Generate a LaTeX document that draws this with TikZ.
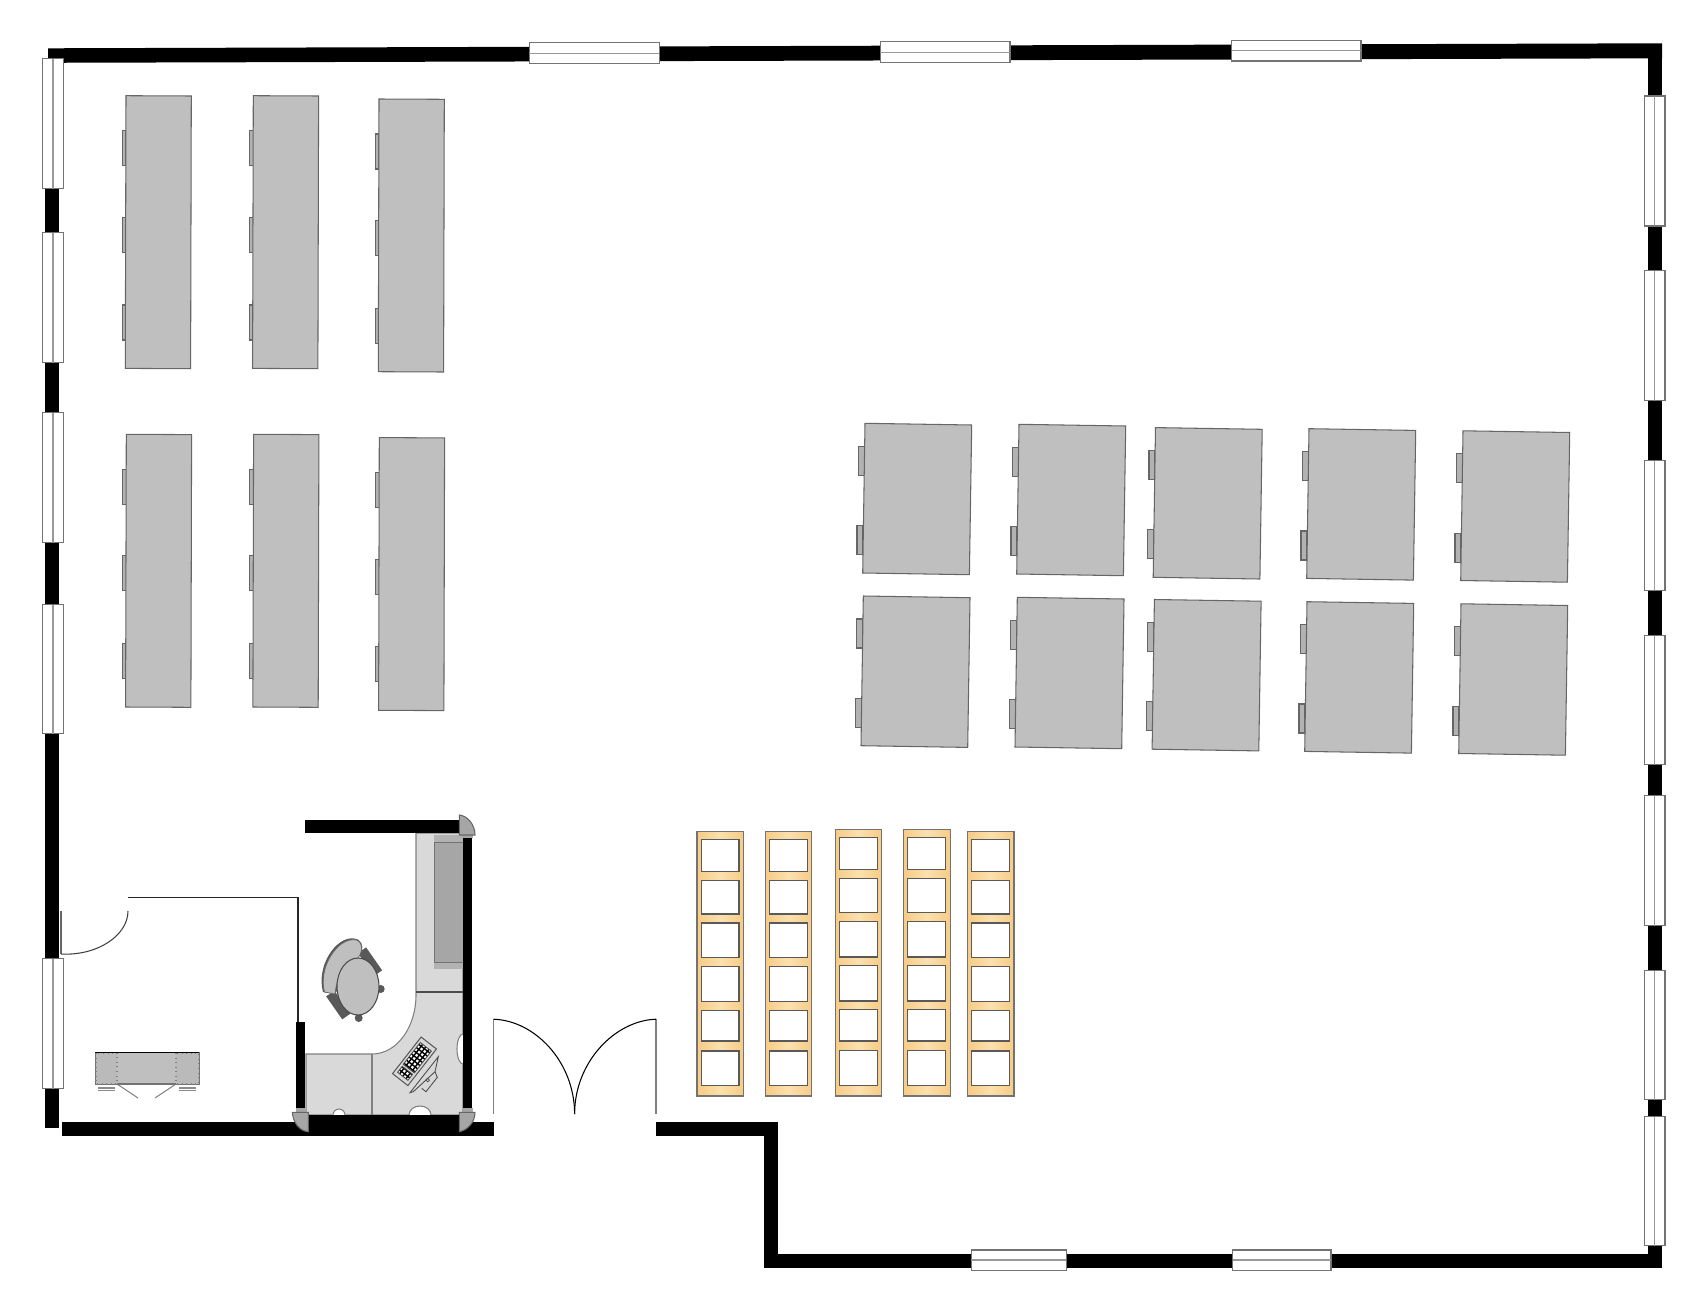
\documentclass[tikz,border=0pt]{standalone}
\usetikzlibrary{calc}
\definecolor{deskgray}{HTML}{BFBFBF}
\definecolor{counter}{HTML}{D9D9D9}
\definecolor{storage}{HTML}{A6A6A6}
\definecolor{armgray}{HTML}{595959}
\definecolor{woodlight}{HTML}{FCE0AE}
\definecolor{wooddark}{HTML}{F6CB86}
\tikzset{
    wall/.style={fill=black, draw=none},
    windowbox/.style={draw=black!55, fill=white, line width=0.3pt},
    windowmid/.style={draw=black!40, line width=0.35pt},
    deskbox/.style={draw=black!60, fill=deskgray, line width=0.3pt},
    tabbox/.style={draw=black!60, fill=black!30, line width=0.3pt},
    shelfbox/.style={draw=black!55, left color=wooddark, right color=wooddark, middle color=woodlight, line width=0.3pt},
    slotbox/.style={draw=black!65, fill=white, line width=0.3pt},
    thinline/.style={draw=black, line width=0.3pt},
    postbox/.style={draw=black!60, fill=storage, line width=0.3pt},
}
\begin{document}
\begin{tikzpicture}[x=0.01cm, y=-0.01cm]
    \useasboundingbox (0,0) rectangle (1706,1312);
    % Reception counter
    \draw [draw=black!50, fill=counter, line width=0.3pt] (416,833) -- (463,833) -- (463,1115) -- (306,1115) -- (306,1054) -- (372,1054) .. controls (397,1054) and (416,1027) .. (416,995) -- cycle;
    \draw [draw=black!70, line width=0.3pt] (416,992) -- (463,992);
    \draw [draw=black!50, line width=0.35pt] (372,1054) -- (372,1115);
    \draw [thinline, draw=black!50, fill=white] (339,1115) ellipse [x radius=6, y radius=6];
    \draw [thinline, draw=black!50, fill=white] (420,1115) ellipse [x radius=11, y radius=9];
    \draw [thinline, draw=black!50, fill=white] (463,1049) ellipse [x radius=6, y radius=15];
    \fill [storage] (434,835) rectangle (463,969);
    \fill [black!30] (434,835) rectangle (463,842);
    \fill [black!30] (434,962) rectangle (463,969);
    \draw [draw=black!55, line width=0.25pt] (463,842) -- (434,842) -- (434,962) -- (463,962);
    % Outer walls
    \fill [wall] (48,48.3) -- (1662,43.3) -- (1662,58.3) -- (48,62.8) -- cycle;
    \fill [wall] (45.3,60) rectangle (59.3,1128);
    \fill [wall] (1648,43.5) rectangle (1662,1267.5);
    \fill [wall] (764,1253.5) rectangle (1662,1267.5);
    \fill [wall] (764,1121.5) rectangle (778,1267.5);
    \fill [wall] (656,1121.5) rectangle (778,1135.5);
    \fill [wall] (62,1121.5) rectangle (493.5,1135.5);
    % Cubicle walls
    \fill [wall] (305,820) rectangle (460,833);
    \fill [wall] (463,833) rectangle (472,1115);
    \fill [wall] (296,1022) rectangle (305,1110);
    \fill [wall] (308,1115) rectangle (460,1135.5);
    % Corner posts
    \fill [black!35] (462,835) rectangle (473,838);
    \fill [black!35] (296,1108) rectangle (305,1112);
    \fill [black!35] (463,1108) rectangle (473,1112);
    \draw [postbox] (459.3,835) -- (459.3,815) .. controls (468,816) and (475,825) .. (475,835) -- cycle;
    \draw [postbox] (308.3,1112.3) -- (292.3,1112.3) .. controls (293,1122) and (299,1131) .. (308.3,1131.7) -- cycle;
    \draw [postbox] (459.3,1112.3) -- (475,1112.3) .. controls (475,1122) and (468,1130) .. (459.3,1131.7) -- cycle;
    % Windows
    \foreach \ya/\yb in {58.5/188.5, 232.5/362.5, 412.5/542.5, 604.5/733.5, 958.5/1088.5} {
        \draw [windowbox] (42.5,\ya) rectangle (63.2,\yb);
        \draw [windowmid] (53,\ya) -- (53,\yb);
    }
    \foreach \ya/\yb in {96/226, 270.5/400.5, 460.5/590.5, 635.5/764.5, 795.5/925.5, 970.5/1099.5, 1116.5/1245.5} {
        \draw [windowbox] (1644.5,\ya) rectangle (1665,\yb);
        \draw [windowmid] (1654.5,\ya) -- (1654.5,\yb);
    }
    \foreach \xa/\xb/\ya in {529.3/659.3/42.7, 880.4/1010/41.7, 1231.5/1361/40.3} {
        \draw [windowbox] (\xa,\ya) rectangle (\xb,\ya+20.7);
        \draw [windowmid] (\xa,\ya+10.5) -- (\xb,\ya+10.5);
    }
    \foreach \xa/\xb in {971.3/1066.3, 1232.7/1331} {
        \draw [windowbox] (\xa,1250) rectangle (\xb,1270.5);
        \draw [windowmid] (\xa,1260) -- (\xb,1260);
    }
    % Long benches
    \foreach \bx/\by in {126/95.7, 253.3/95.7, 379/99, 126.3/434.3, 253.6/434.3, 379.3/437.6} {
        \foreach \ty in {35, 121.6, 209.3}
            \draw [tabbox] (\bx-3.7,\by+\ty) rectangle (\bx,\by+\ty+35);
        \draw [deskbox] (\bx,\by) -- ++(65.3,0.3) -- ++(-0.7,272.7) -- ++(-65.3,-0.3) -- cycle;
    }
    % Short desks
    \foreach \dx/\dy in {865/423.3, 1019/424.3, 1155.5/427.6, 1309/428.7, 1463/430.8,
                         863.3/596, 1017.3/597.3, 1154.4/599.5, 1307/601.7, 1461/603.8} {
        \draw [tabbox] (\dx-6.5,\dy+23) rectangle (\dx-0.5,\dy+52);
        \draw [tabbox] (\dx-8,\dy+102.3) rectangle (\dx-2,\dy+131.3);
        \draw [deskbox] (\dx,\dy) -- ++(106.7,1.7) -- ++(-2.3,149.7) -- ++(-106.7,-1.7) -- cycle;
    }
    % Shelves
    \foreach \sa/\sb in {697/743.6, 765.4/811.8, 967.5/1014} {
        \draw [shelfbox] (\sa,831.3) rectangle (\sb,1096);
        \foreach \ra/\rb in {839.3/871.3, 880.3/914, 923/957.7, 966.3/1001.3, 1010.3/1041, 1051/1085.3}
            \draw [slotbox] (\sa+4.3,\ra) rectangle (\sa+42,\rb);
    }
    \foreach \sa/\sb in {835.4/881.8, 903.2/950.4} {
        \draw [shelfbox] (\sa,829.3) rectangle (\sb,1096);
        \foreach \ra/\rb in {837.3/869.7, 878.7/912.7, 921.7/957, 965.3/1001, 1009.7/1041, 1050.7/1085.3}
            \draw [slotbox] (\sa+4.3,\ra) rectangle (\sa+42,\rb);
    }
    % Partition with door
    \draw [thinline, draw=black!85] (128,897.5) -- (298,897.5) -- (298,1022);
    \draw [thinline, draw=black!60] (61,911) -- (61,954);
    \draw [thinline, draw=black!75] (61,954) .. controls (98,956) and (128,935) .. (128,911);
    % Entrance doors
    \draw [thinline, draw=black!50] (493.6,1114) -- (493.6,1019.2);
    \draw [thinline] (493.6,1019.2) .. controls (535,1020.5) and (574.6,1062) .. (574.6,1114);
    \draw [thinline, draw=black!50] (656,1114) -- (656,1019.2);
    \draw [thinline] (656,1019.2) .. controls (615,1020.5) and (574.6,1062) .. (574.6,1114);
    % Cabinet in the side room
    \draw [draw=black!55, fill=deskgray, line width=0.3pt] (95.3,1052.5) rectangle (199.3,1084);
    \draw [draw=black!50, densely dotted, fill=black!27, line width=0.3pt] (96,1053) rectangle (117,1084);
    \draw [draw=black!50, densely dotted, fill=black!27, line width=0.3pt] (176,1053) rectangle (198.6,1084);
    \draw [draw=black, line width=0.35pt] (95.3,1052.5) -- (199.3,1052.5);
    \draw [draw=black!45, line width=0.3pt] (98,1088) -- (115,1088) (98,1090.5) -- (115,1090.5);
    \draw [draw=black!45, line width=0.3pt] (179,1088) -- (196,1088) (179,1090.5) -- (196,1090.5);
    \draw [draw=black!55, line width=0.25pt] (117,1084) -- (138,1098) (176,1084) -- (155,1098);
    % Office chair
    \fill [armgray] (380.7,989) circle (4);
    \fill [armgray] (358.7,1018) circle (4);
    \begin{scope}[shift={(370,961.7)}, rotate=-55]
        \fill [armgray] (-14,-5) rectangle (14,5);
    \end{scope}
    \begin{scope}[shift={(338.3,1005)}, rotate=-55]
        \fill [armgray] (-14,-5) rectangle (14,5);
    \end{scope}
    \fill [armgray] (323,992) .. controls (316,966) and (336,936) .. (354,938.5) .. controls (362,939) and (363,947) .. (362,950) -- (335,994) -- cycle;
    \draw [draw=black!60, fill=deskgray, line width=0.2pt] (324.5,992) .. controls (318,968) and (337,938) .. (355,939.7) .. controls (362,940.5) and (364,950) .. (358,958) .. controls (345,964) and (337,975) .. (335,994) -- cycle;
    \draw [draw=black!70, fill=deskgray, line width=0.3pt] (358,986.5) ellipse [x radius=21, y radius=28.5];
    % Keyboard
    \begin{scope}[shift={(414.5,1061.3)}, rotate=52]
        \draw [draw=black!65, fill=counter, line width=0.3pt] (-23.2,-9.7) rectangle (23.2,9.7);
        \begin{scope}
            \clip (-9.2,-7) rectangle (18.4,7) (-19,-6.5) rectangle (-11.5,6.5);
            \fill [white] (-20,-8) rectangle (20,8);
            \foreach \gx in {-20,-16,...,20}
                \draw [black, line width=0.4pt] (\gx,-8) -- (\gx,8);
            \foreach \gy in {-8,-4,...,8}
                \draw [black, line width=0.4pt] (-20,\gy) -- (20,\gy);
        \end{scope}
        \draw [draw=black!70, line width=0.25pt] (-9.2,-7) rectangle (18.4,7);
        \draw [draw=black!70, line width=0.25pt] (-19,-6.5) rectangle (-11.5,6.5);
    \end{scope}
    % Monitor
    \draw [draw=black!70, line width=0.25pt] (438.3,1056.7) -- (410,1092.7) -- (413.3,1091.7) -- (435,1071.7) -- cycle;
    \draw [draw=black!70, line width=0.25pt] (435,1071.7) -- (437.3,1077.3) -- (426,1091.7) -- (421.7,1088.3);
    \draw [draw=black!70, line width=0.2pt] (427.7,1080) circle (1.8);
\end{tikzpicture}
\end{document}
